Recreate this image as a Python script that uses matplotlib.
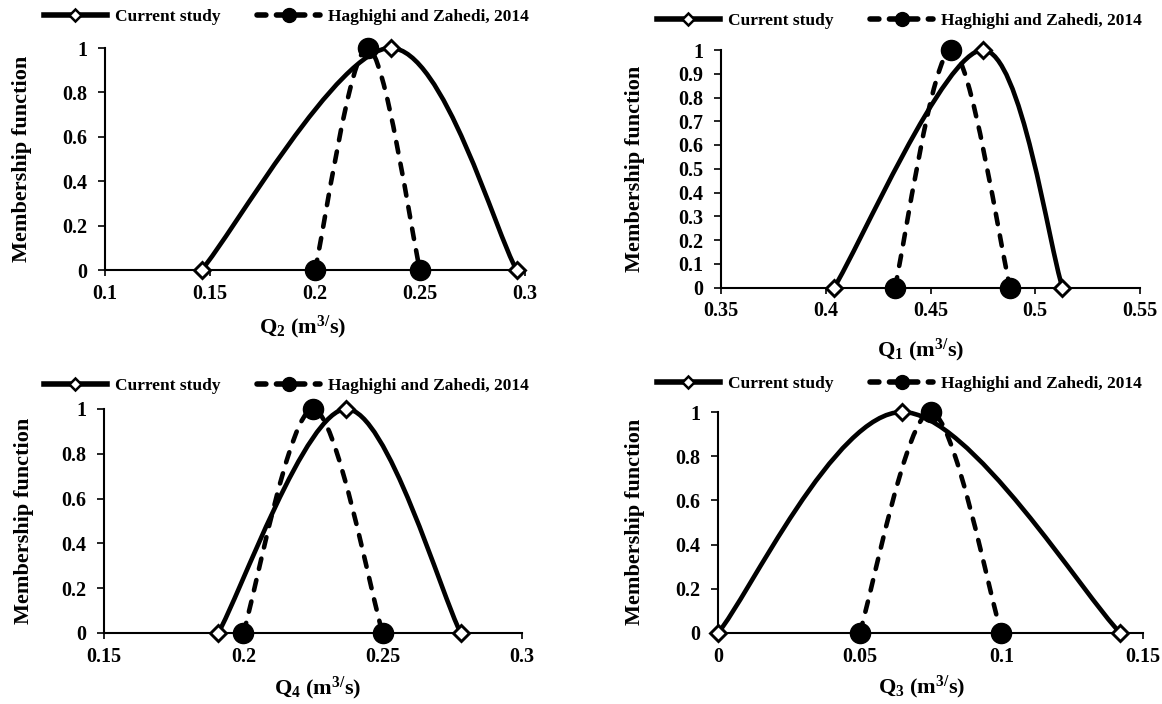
import numpy as np
import matplotlib
matplotlib.use("Agg")
import matplotlib.pyplot as plt
from matplotlib.path import Path
from matplotlib.patches import PathPatch
from matplotlib.lines import Line2D
from matplotlib.ticker import FuncFormatter

# ---- data (membership functions: left foot, peak, right foot) ----
membership = [0, 1, 0]

q2_current = [0.146, 0.236, 0.296]
q2_haghighi = [0.200, 0.225, 0.250]

q1_current = [0.404, 0.475, 0.513]
q1_haghighi = [0.433, 0.460, 0.488]

q4_current = [0.191, 0.237, 0.278]
q4_haghighi = [0.200, 0.225, 0.250]

q3_current = [0.000, 0.065, 0.142]
q3_haghighi = [0.050, 0.075, 0.100]

q2_xticks = [0.1, 0.15, 0.2, 0.25, 0.3]
q1_xticks = [0.35, 0.4, 0.45, 0.5, 0.55]
q4_xticks = [0.15, 0.2, 0.25, 0.3]
q3_xticks = [0, 0.05, 0.1, 0.15]

labels = ["Current study", "Haghighi and Zahedi, 2014"]

# ---- style ----
plt.rcParams["font.family"] = ["Liberation Serif", "DejaVu Serif"]
plt.rcParams["font.weight"] = "bold"
plt.rcParams["mathtext.fontset"] = "custom"
plt.rcParams["mathtext.rm"] = "Liberation Serif:bold"
plt.rcParams["mathtext.default"] = "rm"

W, H = 1162, 704
LW = 3.3
DASH = (2.3, 2.5)


def smooth_path(x, y):
    """Excel-like smoothed line: cubic Bezier through the points."""
    pts = np.column_stack([x, y]).astype(float)
    n = len(pts)
    verts, codes = [pts[0]], [Path.MOVETO]
    for i in range(n - 1):
        p0 = pts[max(i - 1, 0)]
        p1 = pts[i]
        p2 = pts[i + 1]
        p3 = pts[min(i + 2, n - 1)]
        verts += [p1 + (p2 - p0) / 6, p2 - (p3 - p1) / 6, p2]
        codes += [Path.CURVE4] * 3
    return Path(verts, codes)


def panel(l, t, r, b, cur, hz, xticks, yticks, xlabel, xlab_pos, ylab_pos, leg_pos):
    fig = plt.gcf()
    ax = fig.add_axes([l / W, 1 - b / H, (r - l) / W, (b - t) / H])

    ax.add_patch(PathPatch(smooth_path(cur, membership), fill=False, lw=LW,
                           ec="black", capstyle="round", clip_on=False, zorder=2))
    ax.add_patch(PathPatch(smooth_path(hz, membership), fill=False, lw=LW,
                           ec="black", linestyle=(0, DASH), capstyle="round",
                           clip_on=False, zorder=2))
    ax.plot(cur, membership, ls="none", marker="D", ms=8, mfc="white",
            mec="black", mew=2.1, clip_on=False, zorder=3)
    ax.plot(hz, membership, ls="none", marker="o", ms=14.5, mfc="black",
            mec="black", clip_on=False, zorder=4)

    ax.set_xlim(xticks[0], xticks[-1])
    ax.set_ylim(0, 1)
    ax.set_xticks(xticks)
    ax.set_yticks(yticks)
    fmt = FuncFormatter(lambda v, p: f"{round(v, 4):g}")
    ax.xaxis.set_major_formatter(fmt)
    ax.yaxis.set_major_formatter(fmt)
    ax.tick_params(axis="x", direction="out", length=4, width=1.2, pad=6, labelsize=14.5)
    ax.tick_params(axis="y", direction="out", length=5, width=1.2, pad=8, labelsize=14.5)
    for s in ["top", "right"]:
        ax.spines[s].set_visible(False)
    for s in ["left", "bottom"]:
        ax.spines[s].set_linewidth(1.5)

    fig.text(xlab_pos[0] / W, 1 - xlab_pos[1] / H, xlabel, ha="center",
             va="center", fontsize=16, fontweight="bold")
    fig.text(ylab_pos[0] / W, 1 - ylab_pos[1] / H, "Membership function",
             ha="center", va="center", rotation=90, fontsize=16, fontweight="bold")

    handles = [
        Line2D([], [], color="black", lw=4, marker="D", ms=6, mfc="white",
               mec="black", mew=1.8),
        Line2D([], [], color="black", lw=4, dashes=(1.6, 1.9), dash_capstyle="round",
               marker="o", ms=10, mfc="black", mec="black"),
    ]
    fig.legend(handles, labels, loc="center left",
               bbox_to_anchor=(leg_pos[0] / W, 1 - leg_pos[1] / H),
               ncol=2, frameon=False, borderpad=0, borderaxespad=0,
               handlelength=3.6, handletextpad=0.5, columnspacing=2.1,
               prop={"family": "Liberation Serif", "weight": "bold", "size": 12.5})
    return ax


fig = plt.figure(figsize=(W / 100, H / 100), dpi=100)

y_fifth = [0, 0.2, 0.4, 0.6, 0.8, 1]
y_tenth = [0, 0.1, 0.2, 0.3, 0.4, 0.5, 0.6, 0.7, 0.8, 0.9, 1]

panel(105, 48, 525, 270, q2_current, q2_haghighi, q2_xticks, y_fifth,
      "Q$_2$ (m$^{3/}$s)", (303, 327), (22, 159), (44, 17))
panel(721, 50, 1140, 287.5, q1_current, q1_haghighi, q1_xticks, y_tenth,
      "Q$_1$ (m$^{3/}$s)", (921, 350), (635, 169), (657, 21))
panel(104, 409, 522, 633, q4_current, q4_haghighi, q4_xticks, y_fifth,
      "Q$_4$ (m$^{3/}$s)", (318, 688), (24, 521), (44, 386))
panel(718, 412, 1143, 633, q3_current, q3_haghighi, q3_xticks, y_fifth,
      "Q$_3$ (m$^{3/}$s)", (922, 687), (635, 522), (657, 384))

fig.savefig("out.png", dpi=100, facecolor="white")
